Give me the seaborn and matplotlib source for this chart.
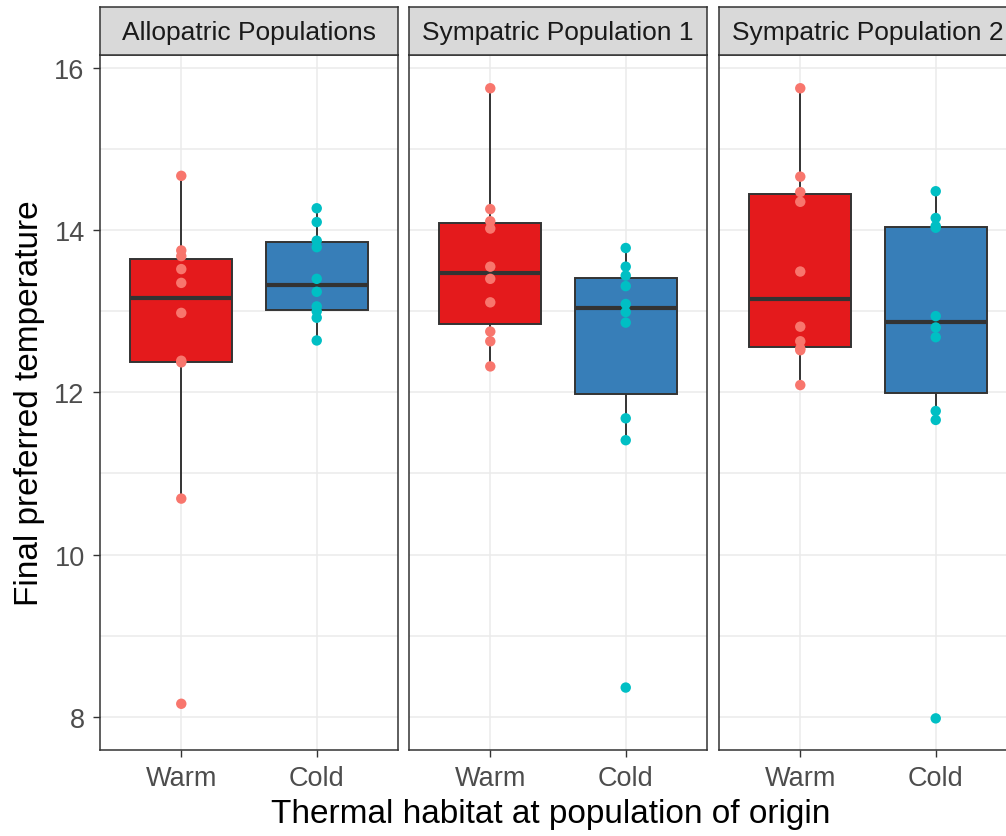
import seaborn as sns
import numpy as np
import pandas as pd
import matplotlib
matplotlib.use('Agg')
import matplotlib.pyplot as plt

populations = ['Allopatric Populations', 'Sympatric Population 1', 'Sympatric Population 2']
habitats = ['Warm', 'Cold']

allo_warm = [14.67, 13.75, 13.68, 13.52, 13.35, 12.98, 12.39, 12.37, 10.69, 8.16]
allo_cold = [14.27, 14.10, 13.87, 13.79, 13.40, 13.24, 13.06, 13.00, 12.92, 12.64]
sym1_warm = [15.75, 14.26, 14.11, 14.02, 13.55, 13.40, 13.11, 12.75, 12.63, 12.32]
sym1_cold = [13.78, 13.55, 13.44, 13.31, 13.09, 12.99, 12.86, 11.68, 11.41, 8.36]
sym2_warm = [15.75, 14.66, 14.47, 14.35, 13.49, 12.81, 12.63, 12.54, 12.52, 12.09]
sym2_cold = [14.48, 14.15, 14.05, 14.03, 12.94, 12.80, 12.68, 11.77, 11.66, 7.98]

series = {
    ('Allopatric Populations', 'Warm'): allo_warm,
    ('Allopatric Populations', 'Cold'): allo_cold,
    ('Sympatric Population 1', 'Warm'): sym1_warm,
    ('Sympatric Population 1', 'Cold'): sym1_cold,
    ('Sympatric Population 2', 'Warm'): sym2_warm,
    ('Sympatric Population 2', 'Cold'): sym2_cold,
}
rows = []
for (pop, hab), vals in series.items():
    for v in vals:
        rows.append({'population': pop, 'habitat': hab, 'temp': v})
df = pd.DataFrame(rows)

box_pal = {'Warm': '#E41A1C', 'Cold': '#377EB8'}
pt_pal = {'Warm': '#F8766D', 'Cold': '#00BFC4'}

sns.set_style('white')
plt.rcParams['font.family'] = ['Liberation Sans', 'DejaVu Sans']

W, H = 1006, 837
fig = plt.figure(figsize=(W / 100, H / 100), dpi=100)

lefts = [100, 409, 719]
pw = 298
top, bottom = 56, 751
strip_top = 8

for i, pop in enumerate(populations):
    ax = fig.add_axes([lefts[i] / W, 1 - bottom / H, pw / W, (bottom - top) / H])
    sub = df[df.population == pop]
    sns.boxplot(data=sub, x='habitat', y='temp', hue='habitat', order=habitats,
                palette=box_pal, saturation=1, width=0.75, showfliers=False,
                linecolor='#333333', linewidth=1.4, legend=False, ax=ax,
                medianprops={'linewidth': 3}, capprops={'linewidth': 0})
    sns.stripplot(data=sub, x='habitat', y='temp', hue='habitat', order=habitats,
                  palette=pt_pal, jitter=False, size=7.5, linewidth=0,
                  legend=False, ax=ax, zorder=5)
    ax.set_xlim(-0.6, 1.6)
    ax.set_ylim(7.59, 16.16)
    ax.set_yticks([8, 10, 12, 14, 16])
    ax.set_yticks([9, 11, 13, 15], minor=True)
    ax.grid(True, which='major', color='#EBEBEB', linewidth=1.1, zorder=0)
    ax.grid(True, which='minor', axis='y', color='#EBEBEB', linewidth=1.1, zorder=0)
    ax.set_axisbelow(True)
    ax.set_xlabel('')
    ax.set_ylabel('')
    for s in ax.spines.values():
        s.set_color('#333333')
        s.set_linewidth(1.1)
    ax.tick_params(axis='x', which='major', length=5, width=1, color='#333333',
                   labelsize=19.5, labelcolor='#4D4D4D', pad=6, bottom=True)
    ax.tick_params(axis='y', which='minor', length=0)
    if i == 0:
        ax.tick_params(axis='y', which='major', length=5, width=1, color='#333333',
                       labelsize=19.5, labelcolor='#4D4D4D', pad=6, left=True)
    else:
        ax.tick_params(axis='y', which='major', left=False, labelleft=False)

    sax = fig.add_axes([lefts[i] / W, 1 - top / H, pw / W, (top - strip_top) / H])
    sax.set_facecolor('#D9D9D9')
    sax.set_xticks([])
    sax.set_yticks([])
    for s in sax.spines.values():
        s.set_color('#333333')
        s.set_linewidth(1.1)
    sax.text(0.5, 0.47, pop, ha='center', va='center', fontsize=19,
             color='#1A1A1A', transform=sax.transAxes)

fig.text(551 / W, 1 - 815 / H, 'Thermal habitat at population of origin',
         ha='center', va='center', fontsize=24, color='black')
fig.text(30 / W, 1 - 403 / H, 'Final preferred temperature', ha='center',
         va='center', rotation=90, fontsize=24, color='black')

fig.savefig('out.png', dpi=100)
